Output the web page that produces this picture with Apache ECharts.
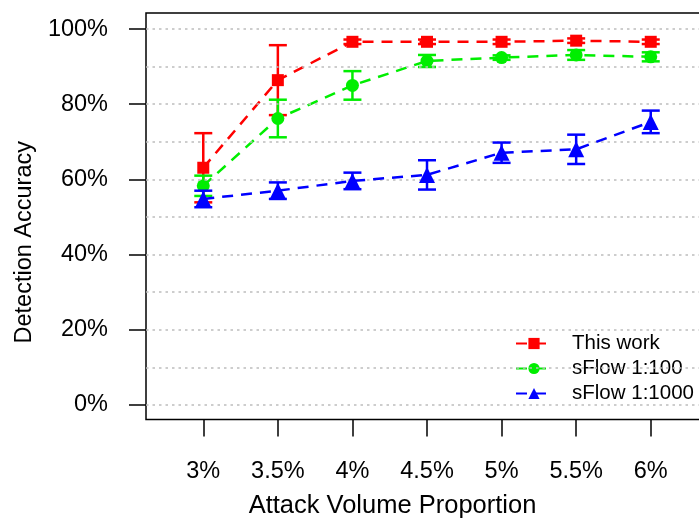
<!DOCTYPE html>
<html>
<head>
<meta charset="utf-8">
<script src="https://cdn.jsdelivr.net/npm/echarts@6/dist/echarts.min.js"></script>
<style>html,body{margin:0;padding:0;background:#fff}#c{width:699px;height:524px}</style>
</head>
<body>
<div id="c"></div>
<script>
var xValues = [3, 3.5, 4, 4.5, 5, 5.5, 6];
var xTickLabels = ['3%', '3.5%', '4%', '4.5%', '5%', '5.5%', '6%'];
var yTickValues = [0, 20, 40, 60, 80, 100];
var gridValues = [0, 10, 20, 30, 40, 50, 60, 70, 80, 90, 100];

var thisWork = [63.1, 86.4, 96.6, 96.6, 96.6, 96.9, 96.6];
var thisWorkErr = [9.2, 9.3, 0.6, 0.6, 0.6, 0.6, 0.6];
var sflow100 = [58.3, 76.2, 85.0, 91.5, 92.4, 93.1, 92.6];
var sflow100Err = [2.7, 5.0, 3.8, 1.6, 0.6, 1.3, 1.2];
var sflow1000 = [54.8, 57.0, 59.6, 61.2, 67.1, 68.0, 75.3];
var sflow1000Err = [2.2, 2.2, 2.2, 3.9, 2.7, 3.9, 3.0];

var FONT = 'Liberation Sans';
var chart = echarts.init(document.getElementById('c'), null, {renderer: 'canvas'});

function pairs(vals) { return xValues.map(function (x, i) { return [x, vals[i]]; }); }
function errData(vals, errs) { return xValues.map(function (x, i) { return [x, vals[i] - errs[i], vals[i] + errs[i]]; }); }

function errSeries(vals, errs, color, z) {
  return {
    type: 'custom', silent: true, z: z,
    data: errData(vals, errs),
    encode: {x: 0, y: [1, 2]},
    renderItem: function (params, api) {
      var lo = api.coord([api.value(0), api.value(1)]);
      var hi = api.coord([api.value(0), api.value(2)]);
      var hw = 9;
      var st = {stroke: color, lineWidth: 2.5};
      return {type: 'group', children: [
        {type: 'line', shape: {x1: lo[0], y1: lo[1], x2: hi[0], y2: hi[1]}, style: st},
        {type: 'line', shape: {x1: lo[0] - hw, y1: lo[1], x2: lo[0] + hw, y2: lo[1]}, style: st},
        {type: 'line', shape: {x1: hi[0] - hw, y1: hi[1], x2: hi[0] + hw, y2: hi[1]}, style: st}
      ]};
    }
  };
}

function lineSeries(name, vals, color, symbol, size, z) {
  return {
    type: 'line', name: name, data: pairs(vals), z: z,
    symbol: symbol, symbolSize: size,
    itemStyle: {color: color},
    lineStyle: {color: color, width: 2.5, type: [11, 8]},
    emphasis: {disabled: true}
  };
}

var option = {
  animation: false,
  backgroundColor: '#fff',
  textStyle: {fontFamily: FONT},
  grid: {left: 146, right: -12, top: 13, bottom: 104.5, show: true, borderColor: '#000', borderWidth: 1.5, outerBoundsMode: 'none', containLabel: false},
  legend: {
    orient: 'vertical', left: 510, top: 328, itemGap: 4, itemWidth: 36, itemHeight: 14,
    textStyle: {fontFamily: FONT, fontSize: 20.5, color: '#000', padding: [0, 0, 0, 15]},
    data: ['This work', 'sFlow 1:100', 'sFlow 1:1000']
  },
  xAxis: {
    type: 'value', min: 2.616, max: 6.404,
    name: 'Attack Volume Proportion', nameLocation: 'middle', nameGap: 73,
    nameTextStyle: {fontFamily: FONT, fontSize: 25.5, color: '#000', padding: [0, 72, 0, 0]},
    axisLine: {show: false, onZero: false},
    axisTick: {show: true, length: 17, lineStyle: {color: '#000', width: 1.5}, customValues: xValues},
    axisLabel: {fontFamily: FONT, fontSize: 23.5, color: '#000', margin: 40, customValues: xValues,
      formatter: function (v) { var i = xValues.indexOf(v); return i >= 0 ? xTickLabels[i] : ''; }},
    splitLine: {show: false}
  },
  yAxis: {
    type: 'value', min: -3.86, max: 104.26,
    name: 'Detection Accuracy', nameLocation: 'middle', nameGap: 93, nameRotate: 90,
    nameTextStyle: {fontFamily: FONT, fontSize: 23.5, color: '#000', padding: [0, 52, 0, 0]},
    axisLine: {show: false, onZero: false},
    axisTick: {show: true, length: 17, lineStyle: {color: '#000', width: 1.5}, customValues: yTickValues},
    axisLabel: {fontFamily: FONT, fontSize: 23.5, color: '#000', margin: 38, customValues: yTickValues,
      formatter: function (v) { return v + '%'; }},
    splitLine: {show: false}
  },
  series: [
    {
      type: 'line', data: [], silent: true, z: 1,
      markLine: {
        silent: true, symbol: ['none', 'none'], label: {show: false},
        lineStyle: {color: '#bdbdbd', width: 1.5, type: [2.5, 4]},
        emphasis: {disabled: true},
        data: gridValues.map(function (v) { return {yAxis: v}; })
      }
    },
    lineSeries('This work', thisWork, '#ff0000', 'rect', 12, 3),
    errSeries(thisWork, thisWorkErr, '#ff0000', 3),
    lineSeries('sFlow 1:100', sflow100, '#00ee00', 'circle', 13, 4),
    errSeries(sflow100, sflow100Err, '#00ee00', 4),
    lineSeries('sFlow 1:1000', sflow1000, '#0000ff', 'triangle', 16, 5),
    errSeries(sflow1000, sflow1000Err, '#0000ff', 5)
  ]
};
chart.setOption(option);
</script>
</body>
</html>
